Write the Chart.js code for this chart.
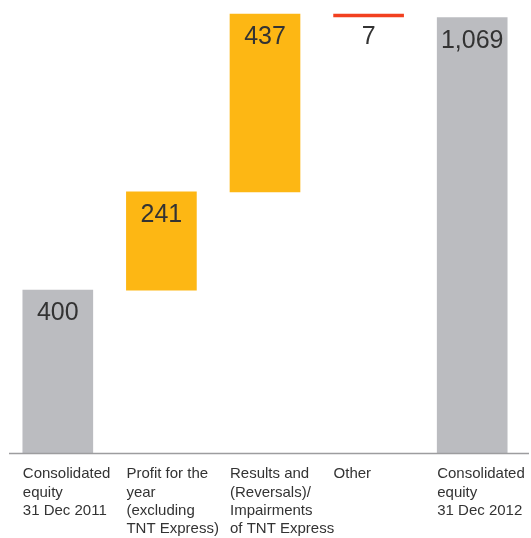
<!DOCTYPE html>
<html>
<head>
<meta charset="utf-8">
<script src="https://cdn.jsdelivr.net/npm/chart.js@4/dist/chart.umd.min.js"></script>
<style>
  html, body { margin: 0; padding: 0; background: #fff; }
  #wrap { width: 531px; height: 538px; position: relative; }
</style>
</head>
<body>
<div id="wrap"><canvas id="equityChart"></canvas></div>
<script>
// Waterfall: consolidated equity movement 2011 -> 2012
const categories = [
  ['Consolidated', 'equity', '31 Dec 2011'],
  ['Profit for the', 'year', '(excluding', 'TNT Express)'],
  ['Results and', '(Reversals)/', 'Impairments', 'of TNT Express'],
  ['Other'],
  ['Consolidated', 'equity', '31 Dec 2012']
];
const barBase = [0, 400, 641, 1071, 0];
const barTop = [400, 641, 1078, 1078, 1069];
const valueLabels = ['400', '241', '437', '7', '1,069'];
const barColors = ['#bbbcc0', '#fdb714', '#fdb714', '#f2401f', '#bbbcc0'];

document.addEventListener("DOMContentLoaded", function () {
  const barWidth = 70;

  // value text inside / under the top of each bar
  const valueText = {
    id: 'valueText',
    afterDatasetsDraw(chart) {
      const ctx = chart.ctx;
      const meta = chart.getDatasetMeta(0);
      ctx.save();
      ctx.font = '25px "Liberation Sans Narrow", "Liberation Sans", sans-serif';
      ctx.fillStyle = '#333333';
      ctx.textAlign = 'center';
      ctx.textBaseline = 'middle';
      meta.data.forEach(function (bar, i) {
        const top = Math.min(bar.y, bar.base);
        ctx.fillText(valueLabels[i], bar.x, top + 23);
      });
      ctx.restore();
    }
  };

  // grey base line under the bars
  const baseLine = {
    id: 'baseLine',
    afterDraw(chart) {
      const ctx = chart.ctx;
      const area = chart.chartArea;
      ctx.save();
      ctx.strokeStyle = '#9d9d9f';
      ctx.lineWidth = 1.5;
      ctx.beginPath();
      ctx.moveTo(area.left + 3, area.bottom + 0.5);
      ctx.lineTo(area.right + 5, area.bottom + 0.5);
      ctx.stroke();
      ctx.restore();
    }
  };

  const ctx = document.getElementById('equityChart').getContext('2d');
  new Chart(ctx, {
    type: 'bar',
    data: {
      labels: categories,
      datasets: [{
        data: barBase.map(function (b, i) { return [b, barTop[i]]; }),
        backgroundColor: barColors,
        borderWidth: 0,
        borderSkipped: false,
        barThickness: barWidth
      }]
    },
    options: {
      responsive: true,
      maintainAspectRatio: false,
      animation: false,
      layout: { padding: { top: 5, left: 6, right: 7, bottom: 0 } },
      plugins: {
        legend: { display: false },
        tooltip: { enabled: false }
      },
      scales: {
        x: {
          grid: { display: false },
          border: { display: false },
          ticks: {
            autoSkip: false,
            maxRotation: 0,
            align: 'start',
            labelOffset: -barWidth / 2,
            padding: 4,
            color: '#333333',
            font: { family: '"Liberation Sans", Arial, sans-serif', size: 15, lineHeight: 1.22 }
          },
          afterFit(scale) {
            scale.height = 85;
            scale.paddingLeft = 0;
            scale.paddingRight = 0;
          }
        },
        y: {
          display: false,
          min: 0,
          max: 1100
        }
      }
    },
    plugins: [valueText, baseLine]
  });
});
</script>
</body>
</html>
